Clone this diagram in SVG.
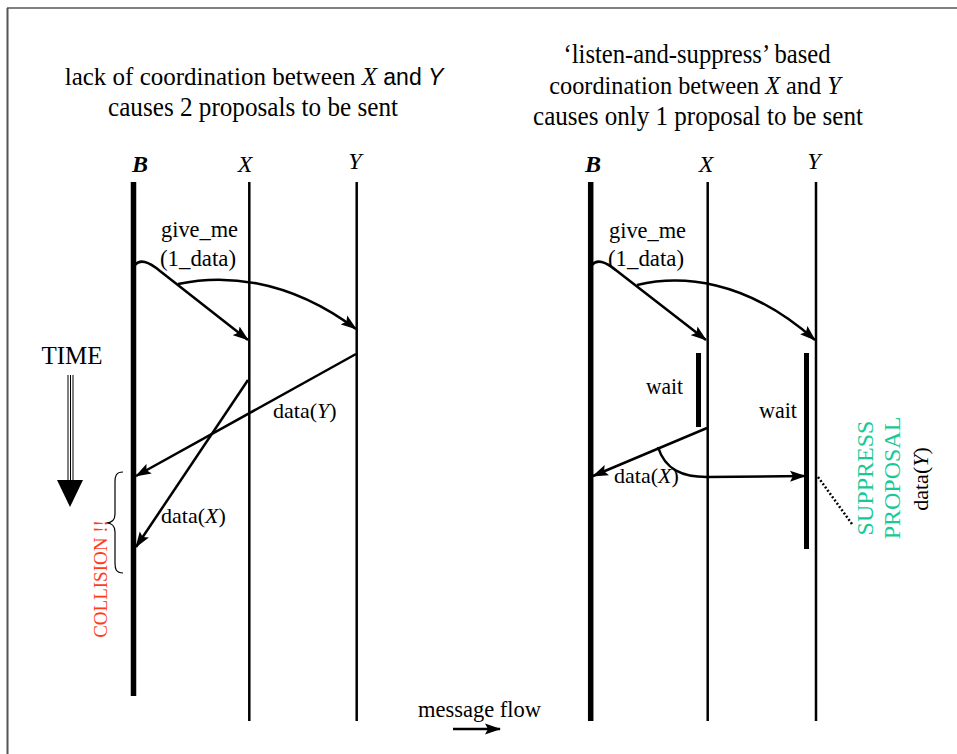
<svg xmlns="http://www.w3.org/2000/svg" width="957" height="754" viewBox="0 0 957 754">
  <style>
    text { font-family: "Liberation Serif", "Times New Roman", serif; fill: #000; }
    .title { font-size: 27px; text-anchor: middle; }
    .head { font-size: 24px; font-style: italic; text-anchor: middle; }
    .lbl { font-size: 24px; }
    .it { font-style: italic; }
    .sans { font-family: "Liberation Sans", Arial, sans-serif; }
    .life { stroke: #000; stroke-width: 2.5; fill: none; }
    .bus { stroke: #000; stroke-width: 5.5; fill: none; }
    .msg { stroke: #000; stroke-width: 2.5; fill: none; marker-end: url(#head); }
  </style>
  <defs>
    <marker id="head" markerUnits="userSpaceOnUse" markerWidth="16" markerHeight="12" refX="15" refY="6" orient="auto">
      <path d="M0,0.5 L16,6 L0,11.5 L3,6 z" fill="#000"/>
    </marker>
  </defs>

  <!-- page frame -->
  <g id="frame">
    <line x1="7" y1="8" x2="957" y2="8" stroke="#808080" stroke-width="2"/>
    <line x1="7.5" y1="8" x2="7.5" y2="754" stroke="#555" stroke-width="2"/>
  </g>

  <!-- titles -->
  <g id="title-left">
    <text class="title" x="254" y="85" style="font-size:25px">lack of coordination between <tspan class="it">X</tspan> <tspan class="sans" style="font-size:23px">and</tspan> <tspan class="sans it" style="font-size:23px">Y</tspan></text>
    <text class="title" x="253" y="116" textLength="290" lengthAdjust="spacingAndGlyphs">causes 2 proposals to be sent</text>
  </g>
  <g id="title-right">
    <text class="title" x="697" y="63" textLength="267" lengthAdjust="spacingAndGlyphs">‘listen-and-suppress’ based</text>
    <text class="title" x="695" y="94" style="font-size:24.3px">coordination between <tspan class="it">X</tspan> and <tspan class="it">Y</tspan></text>
    <text class="title" x="698" y="125" textLength="330" lengthAdjust="spacingAndGlyphs">causes only 1 proposal to be sent</text>
  </g>

  <!-- left scenario lifelines -->
  <g id="left-B">
    <text class="head" x="140" y="172" font-weight="bold">B</text>
    <line class="bus" x1="133.5" y1="182" x2="133.5" y2="696"/>
  </g>
  <g id="left-X">
    <text class="head" x="245" y="172">X</text>
    <line class="life" x1="249.3" y1="182" x2="249.3" y2="721"/>
  </g>
  <g id="left-Y">
    <text class="head" x="355" y="169">Y</text>
    <line class="life" x1="356.7" y1="182" x2="356.7" y2="721"/>
  </g>

  <!-- right scenario lifelines -->
  <g id="right-B">
    <text class="head" x="593" y="172" font-weight="bold">B</text>
    <line class="bus" x1="590.7" y1="182" x2="590.7" y2="721"/>
  </g>
  <g id="right-X">
    <text class="head" x="706" y="172">X</text>
    <line class="life" x1="707.7" y1="182" x2="707.7" y2="721"/>
    <rect x="696" y="353" width="5" height="74" fill="#000"/>
  </g>
  <g id="right-Y">
    <text class="head" x="814" y="169">Y</text>
    <line class="life" x1="816" y1="182" x2="816" y2="721"/>
    <rect x="804" y="353" width="5" height="196" fill="#000"/>
  </g>

  <!-- time axis -->
  <g id="time">
    <text x="72" y="364" font-size="25" text-anchor="middle">TIME</text>
    <line x1="68" y1="375" x2="68" y2="481" stroke="#000" stroke-width="1"/>
    <line x1="70.5" y1="375" x2="70.5" y2="481" stroke="#000" stroke-width="1"/>
    <line x1="73" y1="375" x2="73" y2="481" stroke="#000" stroke-width="1"/>
    <path d="M57,480 L83,480 L70,507 z" fill="#000"/>
  </g>

  <!-- collision brace -->
  <g id="collision">
    <path d="M123,472 C116,472 115,476 115,482 L115,514 C115,520 112,523 106,523 C112,523 115,526 115,532 L115,563 C115,569 116,573 123,573" fill="none" stroke="#000" stroke-width="1.2"/>
    <text transform="translate(107,579) rotate(-90)" font-size="19" text-anchor="middle" style="fill:#ff3b1a">COLLISION !!</text>
  </g>

  <!-- suppression note -->
  <g id="suppress">
    <text transform="translate(873,478) rotate(-90)" font-size="24" text-anchor="middle" style="fill:#16c996">SUPPRESS</text>
    <text transform="translate(900,478) rotate(-90)" font-size="24" text-anchor="middle" style="fill:#16c996">PROPOSAL</text>
    <text transform="translate(928,479) rotate(-90)" font-size="22" text-anchor="middle">data(<tspan class="it">Y</tspan>)</text>
  </g>

  <!-- messages -->
  <g id="connectors">
    <!-- left: request and replies -->
    <path class="msg" d="M135,265 Q142,256 160,271 L248,340"/>
    <path class="msg" d="M178,284 C220,275 285,276 356,329"/>
    <path class="msg" d="M356,354 L136,476"/>
    <path class="msg" d="M248,380 L136,547"/>
    <!-- right: request, reply overheard by Y -->
    <path class="msg" d="M592,265 Q599,256 617,271 L706,340"/>
    <path class="msg" d="M637,285 C680,275 745,278 815,340"/>
    <path class="msg" d="M707,428 L593,476"/>
    <path class="msg" d="M658,447 C665,470 683,477 707,477 L805,476"/>
    <line x1="818" y1="477" x2="852" y2="524" stroke="#000" stroke-width="2.5" stroke-dasharray="2,2"/>
    <!-- legend arrow -->
    <path class="msg" d="M453,729 L500,729"/>
  </g>

  <!-- message labels -->
  <g id="labels">
    <text class="lbl" x="161" y="237" textLength="77" lengthAdjust="spacingAndGlyphs">give_me</text>
    <text class="lbl" x="160" y="266" textLength="76" lengthAdjust="spacingAndGlyphs">(1_data)</text>
    <text class="lbl" x="273" y="418" style="font-size:22px">data(<tspan class="it">Y</tspan>)</text>
    <text class="lbl" x="161" y="523" style="font-size:22px">data(<tspan class="it">X</tspan>)</text>
    <text class="lbl" x="609" y="238" textLength="77" lengthAdjust="spacingAndGlyphs">give_me</text>
    <text class="lbl" x="608" y="266" textLength="76" lengthAdjust="spacingAndGlyphs">(1_data)</text>
    <text class="lbl" x="646" y="394" textLength="37" lengthAdjust="spacingAndGlyphs">wait</text>
    <text class="lbl" x="759" y="418" textLength="38" lengthAdjust="spacingAndGlyphs">wait</text>
    <text class="lbl" x="614" y="483" style="font-size:22px">data(<tspan class="it">X</tspan>)</text>
    <text class="lbl" x="418" y="717" textLength="123" lengthAdjust="spacingAndGlyphs">message flow</text>
  </g>
</svg>
